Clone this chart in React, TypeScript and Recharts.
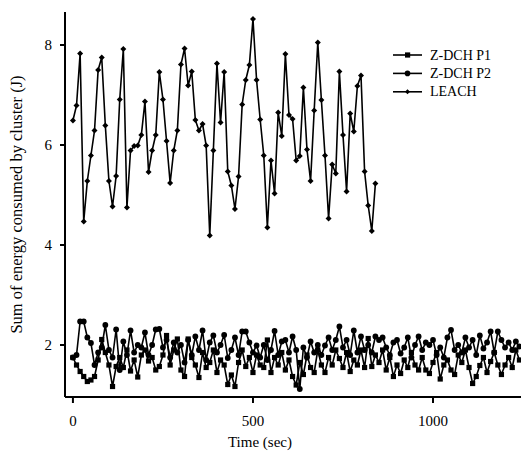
import { LineChart, Line, XAxis, YAxis, Legend } from "recharts";

// energy per cluster (J), one sample every 10 s
const zdchP1 = [
  1.75, 1.6, 1.47, 1.37, 1.27, 1.3, 1.37, 1.7, 2.11, 1.85,
  1.6, 1.17, 1.57, 1.75, 1.55, 1.9, 1.48, 1.7, 1.36, 1.8,
  1.9, 1.68, 1.75, 1.5, 1.57, 1.8, 2.19, 1.6, 1.9, 2.12,
  1.5, 1.37, 2.12, 1.75, 1.6, 1.35, 1.85, 1.55, 1.65, 1.9,
  1.45, 1.7, 1.6, 1.21, 1.4, 1.17, 1.65, 1.9, 1.57, 1.75,
  1.45, 1.8, 1.6, 1.55, 2.1, 1.45, 1.75, 1.6, 1.85, 1.5,
  1.7, 1.37, 1.2, 1.65, 1.41, 1.8, 1.55, 1.45, 1.9, 1.6,
  1.45, 1.75, 1.6, 1.9, 1.73, 1.55, 1.85, 1.47, 1.7, 1.6,
  1.9, 1.55, 2.13, 1.57, 1.8, 1.65, 1.9, 1.5, 1.75, 1.37,
  1.6, 1.43, 1.7, 1.55, 1.85, 1.6, 1.5, 1.75, 1.5, 1.43,
  1.65, 1.85, 1.32, 1.6, 1.7, 1.5, 1.41, 1.8, 1.65, 1.9,
  1.55, 1.23, 1.37, 1.59, 1.75, 1.45, 1.67, 1.85, 1.6, 1.41,
  1.6, 1.75, 1.55, 1.9, 1.7,
];

const zdchP2 = [
  1.75, 1.8, 2.47, 2.47, 2.15, 2.04, 1.6, 1.85, 1.95, 2.4,
  1.9, 1.75, 2.31, 1.5, 2.07, 1.8, 2.29, 1.85, 2.0, 1.95,
  2.25, 1.8, 2.0, 2.31, 2.32, 1.95, 2.1, 1.75, 2.05, 1.85,
  2.0, 1.65, 2.1, 1.8, 2.17, 1.9, 2.29, 1.7, 2.05, 2.19,
  1.85, 2.0, 2.2, 1.74, 1.9, 2.15, 1.8, 2.27, 2.27, 2.05,
  1.85, 1.99, 1.75, 2.0, 1.7, 1.9, 2.28, 1.8, 2.07, 2.1,
  1.85, 2.17, 1.9, 1.12, 1.95, 1.75, 2.07, 1.85, 2.0, 1.8,
  1.99, 2.15, 1.9, 2.1, 2.37, 1.95, 2.1, 1.8, 2.29, 1.85,
  2.17, 1.9, 2.0, 1.85, 2.17, 2.1, 2.15, 1.95, 1.8, 2.05,
  2.1, 1.83, 1.95, 2.15, 1.75, 2.0, 2.17, 1.9, 2.05, 2.0,
  2.1, 1.8, 1.95, 1.75, 2.15, 2.3, 1.9, 2.0, 1.85, 2.15,
  1.95, 2.1, 1.8, 2.19, 1.93, 2.05, 2.27, 1.85, 2.27, 2.1,
  1.95, 2.05, 1.9, 2.07, 1.97,
];

const leach = [
  6.49, 6.79, 7.83, 4.47, 5.28, 5.79, 6.29, 7.5, 7.75, 6.39,
  5.28, 4.77, 5.38, 6.91, 7.92, 4.75, 5.89, 5.98, 5.99, 6.2,
  6.87, 5.46, 5.89, 6.2, 7.46, 6.91, 6.08, 5.24, 5.89, 6.29,
  7.61, 7.93, 7.19, 7.47, 6.5, 6.29, 6.42, 5.99, 4.19, 5.89,
  7.63, 6.45, 7.46, 5.47, 5.19, 4.72, 5.37, 6.81, 7.3, 7.6,
  8.52, 7.3, 6.51, 5.79, 4.35, 5.69, 5.03, 6.65, 6.18, 7.82,
  6.6, 6.52, 5.69, 5.78, 7.15, 5.91, 5.28, 6.69, 8.05, 6.9,
  5.79, 4.53, 5.61, 5.43, 7.47, 6.2, 5.07, 6.63, 6.27, 7.18,
  7.39, 5.47, 4.79, 4.28, 5.23,
];

const STEP = 10;
const xTicks = [0, 500, 1000];
const yTicks = [2, 4, 6, 8];

const data = zdchP1.map((p1, i) => ({
  t: i * STEP,
  p1,
  p2: zdchP2[i],
  leach: i < leach.length ? leach[i] : null,
}));

const FONT = "'Liberation Serif', 'Times New Roman', serif";

const SquareDot = (props: any) => {
  const { cx, cy, index } = props;
  if (cx == null || cy == null) return <g key={`s${index}`} />;
  return <rect key={`s${index}`} x={cx - 2.6} y={cy - 2.6} width={5.2} height={5.2} fill="#000" />;
};

const CircleDot = (props: any) => {
  const { cx, cy, index } = props;
  if (cx == null || cy == null) return <g key={`c${index}`} />;
  return <circle key={`c${index}`} cx={cx} cy={cy} r={2.9} fill="#000" />;
};

const DiamondDot = (props: any) => {
  const { cx, cy, index } = props;
  if (cx == null || cy == null) return <g key={`d${index}`} />;
  const r = 3;
  return (
    <polygon
      key={`d${index}`}
      points={`${cx},${cy - r} ${cx + r},${cy} ${cx},${cy + r} ${cx - r},${cy}`}
      fill="#000"
    />
  );
};

function LegendBox() {
  const items = ["Z-DCH P1", "Z-DCH P2", "LEACH"];
  return (
    <svg width={130} height={64}>
      {items.map((name, i) => {
        const y = 13 + i * 18.4;
        return (
          <g key={name}>
            <line x1={8} x2={37} y1={y} y2={y} stroke="#000" strokeWidth={1.6} />
            {i === 0 && <rect x={20} y={y - 2.6} width={5.2} height={5.2} fill="#000" />}
            {i === 1 && <circle cx={22.5} cy={y} r={2.8} fill="#000" />}
            {i === 2 && (
              <polygon points={`22.5,${y - 2.5} 25,${y} 22.5,${y + 2.5} 20,${y}`} fill="#000" />
            )}
            <text x={45} y={y + 4.5} fontFamily={FONT} fontSize={14} fill="#000">
              {name}
            </text>
          </g>
        );
      })}
    </svg>
  );
}

const tickStyle = { fontFamily: FONT, fontSize: 15, fill: "#000" };
const axisStroke = { stroke: "#000", strokeWidth: 2 };

export default function App() {
  return (
    <LineChart width={521} height={443} data={data} margin={{ top: 4, right: 2, bottom: 0, left: 0 }}>
      <XAxis
        type="number"
        dataKey="t"
        domain={[-22, 1261]}
        allowDataOverflow
        ticks={xTicks}
        tick={tickStyle}
        tickSize={6}
        tickMargin={12}
        axisLine={axisStroke}
        tickLine={axisStroke}
        height={54}
        label={{
          content: (p: any) => (
            <text
              x={p.viewBox.x + 195}
              y={p.viewBox.y + 50}
              textAnchor="middle"
              fontFamily={FONT}
              fontSize={15}
              fill="#000"
            >
              Time (sec)
            </text>
          ),
        }}
      />
      <YAxis
        type="number"
        domain={[0.96, 8.66]}
        allowDataOverflow
        ticks={yTicks}
        tick={tickStyle}
        tickSize={5}
        tickMargin={8}
        axisLine={axisStroke}
        tickLine={axisStroke}
        width={57}
        label={{
          content: (p: any) => (
            <text
              x={14}
              y={p.viewBox.y + p.viewBox.height / 2}
              textAnchor="middle"
              fontFamily={FONT}
              fontSize={16.5}
              fill="#000"
              transform={`rotate(-90, 14, ${p.viewBox.y + p.viewBox.height / 2})`}
            >
              Sum of energy consumed by cluster (J)
            </text>
          ),
        }}
      />
      <Legend
        layout="vertical"
        align="center"
        verticalAlign="middle"
        content={<LegendBox />}
        wrapperStyle={{ position: "absolute", left: 377, top: 34, width: 130 }}
      />
      <Line dataKey="p1" stroke="#000" strokeWidth={1.6} dot={SquareDot} isAnimationActive={false} />
      <Line dataKey="p2" stroke="#000" strokeWidth={1.6} dot={CircleDot} isAnimationActive={false} />
      <Line dataKey="leach" stroke="#000" strokeWidth={1.6} dot={DiamondDot} isAnimationActive={false} />
    </LineChart>
  );
}
